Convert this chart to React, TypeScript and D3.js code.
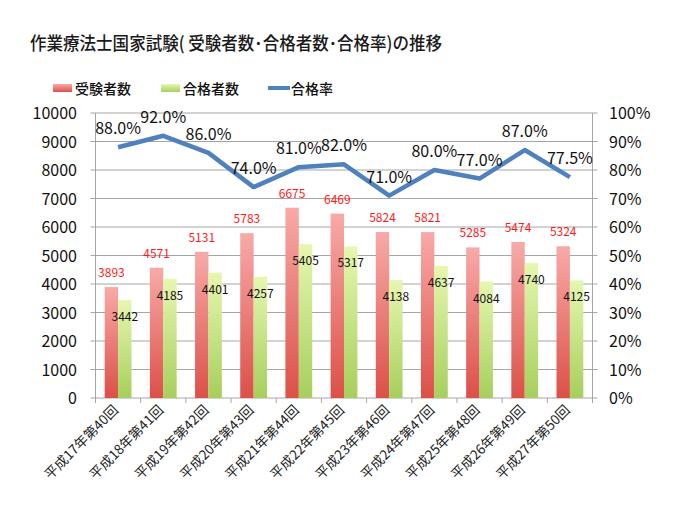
import React from "react";
import * as d3 from "d3";

const categories = [
  "平成17年第40回", "平成18年第41回", "平成19年第42回", "平成20年第43回",
  "平成21年第44回", "平成22年第45回", "平成23年第46回", "平成24年第47回",
  "平成25年第48回", "平成26年第49回", "平成27年第50回",
];
const examinees = [3893, 4571, 5131, 5783, 6675, 6469, 5824, 5821, 5285, 5474, 5324];
const passers = [3442, 4185, 4401, 4257, 5405, 5317, 4138, 4637, 4084, 4740, 4125];
const passRate = [88.0, 92.0, 86.0, 74.0, 81.0, 82.0, 71.0, 80.0, 77.0, 87.0, 77.5];
const leftTicks = [0, 1000, 2000, 3000, 4000, 5000, 6000, 7000, 8000, 9000, 10000];
const rightTicks = [0, 10, 20, 30, 40, 50, 60, 70, 80, 90, 100];

const W = 680, H = 521;
const L = 95.5, R = 592.5, T = 113, B = 398;
const font = "'Noto Sans CJK JP', 'Noto Sans', sans-serif";

export default function App() {
  const x = d3.scaleBand<string>().domain(categories).range([L, R]).paddingInner(0).paddingOuter(0);
  const yL = d3.scaleLinear().domain([0, 10000]).range([B, T]);
  const yR = d3.scaleLinear().domain([0, 100]).range([B, T]);
  const bw = x.bandwidth();
  const barW = 13.4;
  const cx = (c: string) => (x(c) as number) + bw / 2;
  const line = d3.line<number>().x((_, i) => cx(categories[i])).y((d) => yR(d));
  const grid = "#a6a6a6";

  return (
    <svg width={W} height={H} style={{ position: "absolute", left: 0, top: 0, background: "#fff" }} fontFamily={font}>
      <defs>
        <linearGradient id="gRed" x1="0" y1="0" x2="0" y2="1">
          <stop offset="0" stopColor="#f8aaa8" />
          <stop offset="1" stopColor="#dc5048" />
        </linearGradient>
        <linearGradient id="gGreen" x1="0" y1="0" x2="0" y2="1">
          <stop offset="0" stopColor="#e6f7b0" />
          <stop offset="1" stopColor="#a6cf5c" />
        </linearGradient>
      </defs>
      <text x={30} y={50} fontSize={18} fontWeight={500} fill="#1a1a1a" textLength={412} lengthAdjust="spacingAndGlyphs">作業療法士国家試験( 受験者数･合格者数･合格率)の推移</text>

      {/* legend */}
      <rect x={53} y={84} width={19} height={8} fill="url(#gRed)" />
      <text x={75} y={94} fontSize={14} fontWeight={500} fill="#111">受験者数</text>
      <rect x={161} y={84} width={19} height={8} fill="url(#gGreen)" />
      <text x={183} y={94} fontSize={14} fontWeight={500} fill="#111">合格者数</text>
      <line x1={268} x2={290} y1={88} y2={88} stroke="#4f81bd" strokeWidth={4} />
      <text x={291} y={94} fontSize={14} fontWeight={500} fill="#111">合格率</text>

      {/* gridlines */}
      {leftTicks.map((t) => (
        <line key={t} x1={L - 5} x2={R + 5} y1={yL(t)} y2={yL(t)} stroke={grid} strokeWidth={1} />
      ))}
      <line x1={L} x2={L} y1={T} y2={B} stroke={grid} />
      <line x1={R} x2={R} y1={T} y2={B} stroke={grid} />
      {categories.map((c) => (
        <line key={c} x1={x(c) as number} x2={x(c) as number} y1={B} y2={B + 5} stroke={grid} />
      ))}
      <line x1={R} x2={R} y1={B} y2={B + 5} stroke={grid} />

      {/* axis tick labels */}
      {leftTicks.map((t) => (
        <text key={t} x={77} y={yL(t) + 6} fontSize={16} textAnchor="end" fill="#111">{t}</text>
      ))}
      {rightTicks.map((t) => (
        <text key={t} x={609} y={yR(t) + 6} fontSize={16} textAnchor="start" fill="#111">{t}%</text>
      ))}

      {/* bars */}
      {categories.map((c, i) => {
        const x0 = cx(c) - barW;
        return (
          <g key={c}>
            <rect x={x0} y={yL(examinees[i])} width={barW} height={B - yL(examinees[i])} fill="url(#gRed)" />
            <rect x={x0 + barW} y={yL(passers[i])} width={barW} height={B - yL(passers[i])} fill="url(#gGreen)" />
          </g>
        );
      })}

      {/* line */}
      <path d={line(passRate) as string} fill="none" stroke="#4f81bd" strokeWidth={4.5} strokeLinejoin="round" />

      {/* labels */}
      {categories.map((c, i) => (
        <g key={c}>
          <text x={cx(c) - barW / 2} y={yL(examinees[i]) - 10} fontSize={12} textAnchor="middle" fill="#ff1a1a">{examinees[i]}</text>
          <text x={cx(c) + barW / 2} y={yL(passers[i]) + 21} fontSize={12} textAnchor="middle" fill="#111">{passers[i]}</text>
          <text x={cx(c)} y={yR(passRate[i]) - 13} fontSize={16} textAnchor="middle" fill="#111">{passRate[i].toFixed(1)}%</text>
          <text
            transform={`translate(${cx(c) + 1},${B + 13}) rotate(-45)`}
            fontSize={13.5}
            textAnchor="end"
            fill="#222"
          >{c}</text>
        </g>
      ))}
    </svg>
  );
}
